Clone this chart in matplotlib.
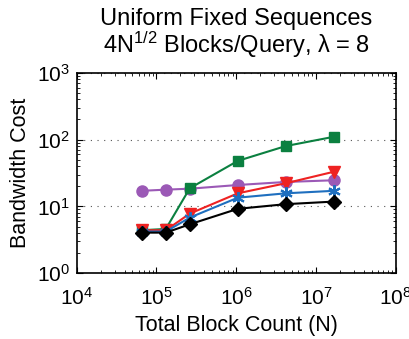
import matplotlib
matplotlib.use("Agg")
import matplotlib.pyplot as plt

plt.rcParams['font.family'] = ['Liberation Sans', 'DejaVu Sans']
plt.rcParams['mathtext.fontset'] = 'custom'
plt.rcParams['mathtext.rm'] = 'Liberation Sans'
plt.rcParams['mathtext.it'] = 'Liberation Sans'

# total block counts (N) = 2^16 .. 2^24
block_counts = [2**16, 2**17, 2**18, 2**20, 2**22, 2**24]

# bandwidth cost per scheme
purple_vals = [17.1, 17.8, 18.4, 20.9, 23.2, 24.6]
green_vals = [4.4, 4.6, 18.7, 48, 80, 110]
red_vals = [4.4, 4.4, 7.8, 15.7, 22.2, 33]
blue_vals = [4.2, 4.2, 6.8, 13.5, 15.7, 17.1]
black_vals = [4.05, 4.05, 5.4, 9.2, 10.8, 11.8]

fig = plt.figure(figsize=(4.09, 3.39), dpi=100)
ax = fig.add_axes([0.1875, 0.194, 0.78, 0.5915])

ax.plot(block_counts, purple_vals, color='#9b59b6', marker='o', markersize=8, lw=1.5)
ax.plot(block_counts, green_vals, color='#0b8040', marker='s', markersize=7, lw=1.5)
ax.plot(block_counts, red_vals, color='#ee2222', marker='v', markersize=9, lw=1.5)
ax.plot(block_counts, blue_vals, color='#1f6fbf', marker=(6, 2, 0), markersize=9,
        markeredgewidth=1.5, lw=1.5)
ax.plot(block_counts, black_vals, color='black', marker='D', markersize=7, lw=1.5)

ax.set_xscale('log')
ax.set_yscale('log')
ax.set_xlim(1e4, 1e8)
ax.set_ylim(1, 1e3)
ax.yaxis.grid(True, which='major', linestyle=(0, (1, 5)), color='#555555', lw=0.8)
ax.tick_params(which='both', direction='in', top=True, right=True, labelsize=15)
ax.tick_params(which='major', length=4)
ax.tick_params(which='minor', length=2)
ax.tick_params(axis='x', which='major', pad=10)
ax.tick_params(axis='y', which='major', pad=5)
for s in ax.spines.values():
    s.set_linewidth(1.2)

ax.set_title('Uniform Fixed Sequences\n4N$^{1/2}$ Blocks/Query, \u03bb = 8', fontsize=17,
             pad=14, linespacing=1.02)
ax.set_xlabel('Total Block Count (N)', fontsize=15.5, labelpad=4)
ax.set_ylabel('Bandwidth Cost', fontsize=15.5, labelpad=4)

fig.savefig('out.png', dpi=100)
